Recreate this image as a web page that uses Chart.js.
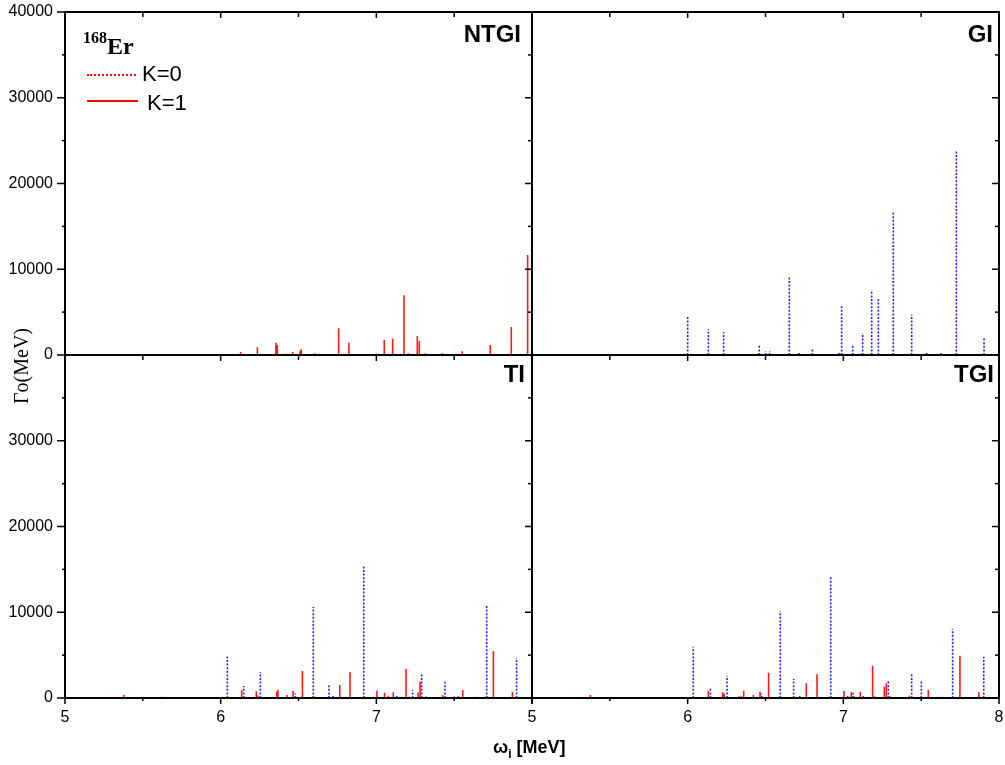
<!DOCTYPE html>
<html>
<head>
<meta charset="utf-8">
<script src="https://cdn.jsdelivr.net/npm/chart.js@4"></script>
<style>
body{margin:0;background:#fff;}
#wrap{position:relative;width:1005px;height:765px;overflow:hidden;}
canvas{position:absolute;left:0;top:0;}
.t{position:absolute;white-space:nowrap;color:#000;line-height:1;}
.sans{font-family:"Liberation Sans",Arial,sans-serif;}
.serif{font-family:"Liberation Serif","Times New Roman",serif;}
.panel{font-weight:bold;font-size:24px;}
sub{font-size:12px;vertical-align:-5px;line-height:0;}
</style>
</head>
<body>
<div id="wrap">
  <canvas id="c" width="1005" height="765"></canvas>
  <div class="t serif" style="left:83px;top:30px;font-size:16px;font-weight:bold">168</div>
  <div class="t serif" style="left:107px;top:34px;font-size:24px;font-weight:bold">Er</div>
  <div style="position:absolute;left:87px;top:74px;width:49px;border-top:2px dotted #f00"></div>
  <div class="t sans" style="left:142px;top:63px;font-size:22px">K=0</div>
  <div style="position:absolute;left:87px;top:100px;width:51px;border-top:2px solid #f00"></div>
  <div class="t sans" style="left:147px;top:92px;font-size:22px">K=1</div>
  <div class="t sans panel" style="right:484px;top:22px">NTGI</div>
  <div class="t sans panel" style="right:12px;top:22px">GI</div>
  <div class="t sans panel" style="right:480px;top:362px">TI</div>
  <div class="t sans panel" style="right:11px;top:362px">TGI</div>
  <div class="t serif" style="left:-29px;top:356px;width:100px;text-align:center;font-size:20px;transform:rotate(-90deg)">Γo(MeV)</div>
  <div class="t sans" style="left:493px;top:738px;font-size:18px;font-weight:bold">ω<sub>i</sub> [MeV]</div>
</div>
<script>
// axis ticks
const xTicks = [5, 6, 7, 8];
const xMinorTicks = [5.5, 6.5, 7.5];
const yTicks = [0, 10000, 20000, 30000, 40000];
const yMinorTicks = [5000, 15000, 25000, 35000];

// [energy MeV, strength]
const ntgiK1 = [[5.375,100],[6.128,350],[6.236,890],[6.355,1440],[6.364,1130],[6.424,150],[6.463,350],[6.510,500],
  [6.518,660],[6.604,200],[6.758,3110],[6.824,1440],[7.002,150],[7.013,150],[7.051,1750],[7.105,1910],[7.178,6960],
  [7.206,200],[7.263,2220],[7.276,1630],[7.315,200],[7.424,200],[7.552,430],[7.732,1170],[7.867,3260],[7.972,11660]];
const giK0 = [[6.0,4450],[6.133,3030],[6.231,2640],[6.460,1200],[6.501,470],[6.527,470],[6.653,9060],[6.717,230],
  [6.801,850],[6.972,390],[6.989,5870],[7.060,1090],[7.124,2530],[7.182,7580],[7.225,6490],[7.321,16790],[7.439,4700],
  [7.535,270],[7.627,230],[7.726,23900],[7.904,2020]];
const tiK0 = [[5.625,150],[6.043,4900],[6.148,1400],[6.255,3030],[6.480,550],[6.595,10610],[6.696,1670],[6.722,400],
  [6.919,15390],[7.131,400],[7.233,930],[7.291,2800],[7.441,1900],[7.527,200],[7.709,10730],[7.901,4660]];
const tiK1 = [[5.377,350],[5.792,100],[6.135,930],[6.229,780],[6.238,300],[6.321,100],[6.347,100],[6.360,740],
  [6.368,930],[6.426,350],[6.465,820],[6.51,100],[6.525,3150],[6.765,1520],[6.831,2990],[7.004,850],[7.053,620],
  [7.077,250],[7.109,660],[7.191,3380],[7.21,150],[7.268,660],[7.281,1900],[7.32,200],[7.426,350],[7.5,200],
  [7.555,930],[7.634,150],[7.752,5480],[7.874,740]];
const tgiK0 = [[6.036,5980],[6.146,1200],[6.253,2600],[6.475,500],[6.595,10140],[6.681,2220],[6.72,300],[6.919,14070],
  [7.028,400],[7.062,600],[7.128,400],[7.289,2100],[7.439,2950],[7.501,2020],[7.702,8090],[7.902,4820]];
const tgiK1 = [[5.375,350],[6.133,860],[6.225,660],[6.235,500],[6.33,200],[6.345,200],[6.360,860],[6.422,350],
  [6.465,740],[6.520,2950],[6.762,1710],[6.831,2760],[7.004,820],[7.051,660],[7.07,200],[7.109,740],[7.188,3730],
  [7.2,200],[7.263,1320],[7.276,1710],[7.30,200],[7.424,300],[7.5,200],[7.546,930],[7.63,150],[7.749,4930],[7.871,660]];

const FONT = '"Liberation Sans", Arial, sans-serif';
Chart.defaults.font.family = FONT;
Chart.defaults.color = '#000';

// each line goes 0 -> value, null breaks it from the next one
function stems(pairs){
  const out = [];
  pairs.forEach(([e, g]) => { out.push({x:e, y:0}, {x:e, y:g}, {x:e, y:null}); });
  return out;
}

const red = {borderColor:'#ff1a1a', borderWidth:1.6};
const blue = {borderColor:'#2020ff', borderWidth:1.6, borderDash:[2,1.6]};

function xScale(weight, hideLast){
  return {
    type:'linear', position:'bottom', stack:'cols', stackWeight:1, weight,
    min:5, max:8,
    grid:{display:false, drawTicks:false}, border:{display:false},
    afterBuildTicks: s => { s.ticks = xTicks.map(v => ({value:v})); },
    afterFit: s => { s.height = 67; s.paddingLeft = 0; s.paddingRight = 0; },
    ticks:{padding:10, font:{size:16}, color:'#000', maxRotation:0, autoSkip:false,
      callback: v => (hideLast && v === 8) ? '' : String(v)}
  };
}
function yScale(weight, hideTop){
  return {
    type:'linear', position:'left', stack:'rows', stackWeight:1, weight,
    min:0, max:40000,
    grid:{display:false, drawTicks:false}, border:{display:false},
    afterBuildTicks: s => { s.ticks = yTicks.map(v => ({value:v})); },
    afterFit: s => { s.width = 65; s.paddingTop = 0; s.paddingBottom = 0; },
    ticks:{padding:12, font:{size:16}, color:'#000', autoSkip:false,
      callback: v => (hideTop && v === 40000) ? '' : String(v)}
  };
}

const framePlugin = {
  id:'frame',
  afterDatasetsDraw(chart){
    const {ctx, chartArea:a} = chart;
    const {xL, xR, yT, yB} = chart.scales;
    const midX = xL.right, midY = yT.bottom;
    const line = (x1,y1,x2,y2) => { ctx.beginPath(); ctx.moveTo(x1,y1); ctx.lineTo(x2,y2); ctx.stroke(); };
    ctx.save();
    ctx.strokeStyle = '#000';
    ctx.lineWidth = 1.5;
    [yT, yB].forEach((ys, k) => {
      yTicks.concat(yMinorTicks).forEach(v => {
        if (k === 1 && v === 40000) return;
        const y = ys.getPixelForValue(v);
        const major = yTicks.includes(v);
        line(a.left - (major ? 8 : 3), y, a.left, y);
        line(midX - (major ? 7 : 4), y, midX, y);
        line(a.right - (major ? 7 : 4), y, a.right, y);
      });
    });
    [xL, xR].forEach(xs => {
      xTicks.concat(xMinorTicks).forEach(v => {
        const x = xs.getPixelForValue(v);
        const major = xTicks.includes(v);
        line(x, a.top, x, a.top + (major ? 6 : 5));
        line(x, midY, x, midY + (major ? 6 : 5));
        line(x, a.bottom, x, a.bottom + (major ? 6 : 3));
      });
    });
    ctx.lineWidth = 2;
    ctx.strokeRect(a.left, a.top, a.width, a.height);
    line(midX, a.top, midX, a.bottom);
    line(a.left, midY, a.right, midY);
    ctx.restore();
  }
};

new Chart(document.getElementById('c'), {
  type:'line',
  data:{datasets:[
    {label:'NTGI K=1', data:stems(ntgiK1), xAxisID:'xL', yAxisID:'yT', ...red},
    {label:'GI K=0', data:stems(giK0), xAxisID:'xR', yAxisID:'yT', ...blue},
    {label:'TI K=1', data:stems(tiK1), xAxisID:'xL', yAxisID:'yB', ...red},
    {label:'TI K=0', data:stems(tiK0), xAxisID:'xL', yAxisID:'yB', ...blue},
    {label:'TGI K=1', data:stems(tgiK1), xAxisID:'xR', yAxisID:'yB', ...red},
    {label:'TGI K=0', data:stems(tgiK0), xAxisID:'xR', yAxisID:'yB', ...blue}
  ]},
  options:{
    responsive:false, animation:false, devicePixelRatio:1,
    spanGaps:false,
    layout:{padding:{top:12, right:6, bottom:0, left:0}},
    elements:{point:{radius:0, hoverRadius:0}, line:{tension:0, fill:false}},
    plugins:{legend:{display:false}, tooltip:{enabled:false}},
    scales:{
      xL:xScale(1, true),
      xR:xScale(2, false),
      yT:yScale(2, false),
      yB:yScale(1, true)
    }
  },
  plugins:[framePlugin]
});
</script>
</body>
</html>
